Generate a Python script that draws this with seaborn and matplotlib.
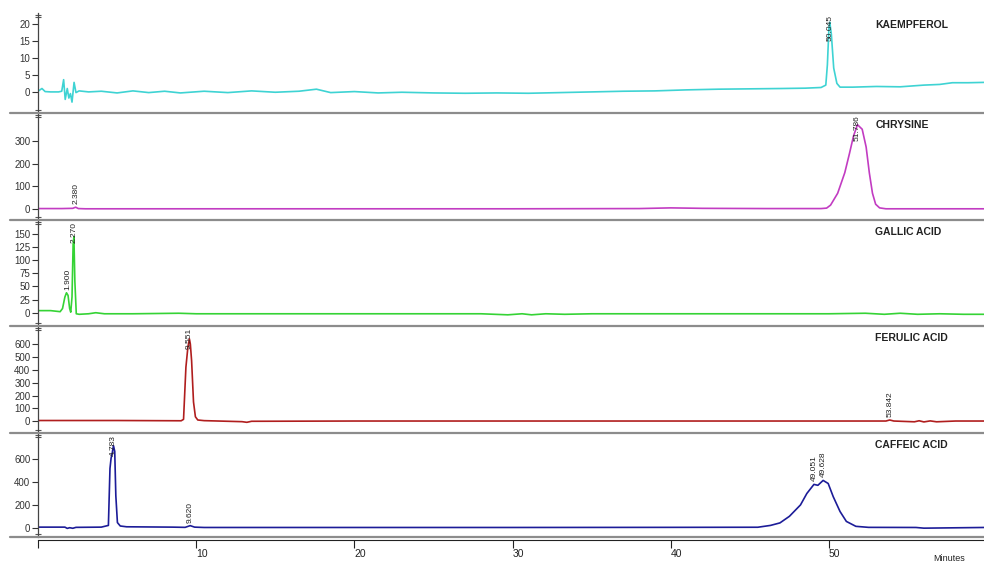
import numpy as np
import pandas as pd
import matplotlib
matplotlib.use('Agg')
import matplotlib.pyplot as plt
from matplotlib.lines import Line2D
import seaborn as sns

# Chromatogram traces (time in minutes, response)
kaempferol_t = [0, 0.25, 0.45, 0.8, 1.3, 1.5, 1.62, 1.72, 1.85, 1.95, 2.05, 2.15, 2.28, 2.4, 2.6,
                3.2, 4.0, 5.0, 6.0, 7.0, 8.0, 9.0, 10.5, 12.0, 13.5, 15.0, 16.5, 17.6, 18.5, 20.0,
                21.5, 23.0, 25.0, 27.0, 29.0, 31.0, 33.0, 35.0, 37.0, 39.0, 41.0, 43.0, 45.0, 47.0,
                48.5, 49.5, 49.8, 49.9, 50.0, 50.05, 50.15, 50.3, 50.5, 50.7, 51.5, 53.0, 54.5,
                56.0, 57.0, 57.8, 58.8, 59.8]
kaempferol_v = [0.2, 1.0, 0.1, 0, 0, 0.2, 3.6, -2.2, 1.0, -1.8, -0.5, -3.0, 2.8, -0.2, 0.3,
                0, 0.2, -0.3, 0.3, -0.2, 0.2, -0.3, 0.2, -0.2, 0.3, -0.1, 0.2, 0.8, -0.2, 0.1,
                -0.3, -0.1, -0.3, -0.4, -0.3, -0.4, -0.2, 0, 0.2, 0.3, 0.6, 0.8, 0.9, 1.0,
                1.1, 1.3, 2.0, 8.0, 19.0, 20.5, 17.0, 7.0, 2.5, 1.4, 1.4, 1.6, 1.5,
                2.0, 2.2, 2.7, 2.7, 2.8]

chrysine_t = [0, 1.5, 2.2, 2.38, 2.55, 3, 10, 20, 30, 38, 40, 42, 46, 49.5, 49.85, 50.1, 50.55,
              51.0, 51.3, 51.55, 51.8, 52.1, 52.35, 52.55, 52.75, 52.95, 53.2, 53.6, 56, 59.8]
chrysine_v = [3, 3, 4, 9, 3, 2, 2, 2, 2, 3, 6, 4, 3, 3, 5, 18, 70,
              160, 245, 320, 370, 350, 272, 160, 70, 22, 6, 2, 2, 2]

gallic_t = [0, 0.8, 1.4, 1.55, 1.7, 1.8, 1.9, 2.0, 2.07, 2.15, 2.22, 2.27, 2.33, 2.42, 2.6, 3.2,
            3.65, 4.2, 6, 8.9, 10, 15, 20, 25, 28, 29.7, 30.6, 31.2, 32.1, 33.3, 35, 40, 45, 50,
            52.3, 53.5, 54.5, 55.6, 57, 58.5, 59.8]
gallic_v = [4, 4, 2, 8, 30, 38, 33, 8, 1, 30, 130, 145, 60, -2, -3, -2,
            0, -2, -2, -1, -2, -2, -2, -2, -2, -4, -2, -4, -2, -3, -2, -2, -2, -2,
            -1, -3, -1, -3, -2, -3, -3]

ferulic_t = [0, 5, 9.05, 9.2, 9.35, 9.47, 9.57, 9.63, 9.71, 9.83, 9.95, 10.1, 10.5, 12.9, 13.2,
             13.5, 20, 30, 40, 50, 53.6, 53.84, 54.1, 55.4, 55.7, 56.0, 56.4, 56.8, 58, 59.8]
ferulic_v = [6, 6, 4, 15, 420, 570, 640, 600, 470, 150, 35, 10, 5, -3, -8,
             0, 2, 2, 2, 2, 2, 10, 2, -4, 4, -5, 3, -4, 2, 2]

caffeic_t = [0, 1.7, 1.85, 2.0, 2.2, 2.4, 4.0, 4.45, 4.55, 4.62, 4.7, 4.77, 4.85, 4.92, 5.02,
             5.2, 5.6, 8.5, 9.3, 9.62, 9.9, 10.5, 20, 30, 40, 45.5, 46.3, 46.9, 47.5, 48.2,
             48.6, 49.05, 49.3, 49.63, 49.95, 50.27, 50.7, 51.1, 51.7, 52.5, 55.5, 56, 59.8]
caffeic_v = [5, 5, -6, 0, -5, 3, 5, 20, 520, 610, 660, 720, 670, 280, 45,
             15, 8, 5, 3, 18, 5, 2, 2, 2, 3, 4, 20, 42, 100, 200,
             300, 380, 372, 415, 388, 272, 142, 55, 12, 3, 2, -4, 2]

compounds = ['KAEMPFEROL', 'CHRYSINE', 'GALLIC ACID', 'FERULIC ACID', 'CAFFEIC ACID']
colors = ['#3ed3d3', '#c23cc2', '#35d335', '#b01e1e', '#1c1c98']
traces = [(kaempferol_t, kaempferol_v), (chrysine_t, chrysine_v), (gallic_t, gallic_v),
          (ferulic_t, ferulic_v), (caffeic_t, caffeic_v)]

# peak labels: (panel index, retention time, peak height, label)
peak_labels = [
    (0, 50.045, 20.5, '50.045'),
    (1, 2.380, 9, '2.380'),
    (1, 51.786, 370, '51.786'),
    (2, 1.900, 38, '1.900'),
    (2, 2.270, 145, '2.270'),
    (3, 9.551, 640, '9.551'),
    (3, 53.842, 10, '53.842'),
    (4, 4.783, 720, '4.783'),
    (4, 9.620, 18, '9.620'),
    (4, 49.051, 380, '49.051'),
    (4, 49.628, 415, '49.628'),
]

y_limits = [(-6.2, 23.2), (-47, 421), (-25.3, 176.7), (-91, 740), (-81.6, 831)]
y_ticks = [[0, 5, 10, 15, 20], [0, 100, 200, 300], [0, 25, 50, 75, 100, 125, 150],
           [0, 100, 200, 300, 400, 500, 600], [0, 200, 400, 600]]
x_ticks = [0, 10, 20, 30, 40, 50]

# panel extents in pixels (top, bottom) of a 984x563 figure
W, H = 984, 563
panels_px = [(13, 113), (113, 220), (220, 326), (326, 433), (433, 537)]
left_px = 38

sns.set_style('ticks')
plt.rcParams['font.family'] = ['Liberation Sans', 'DejaVu Sans']

fig = plt.figure(figsize=(W / 100, H / 100), dpi=100)
axes = []
for i, (top, bot) in enumerate(panels_px):
    ax = fig.add_axes([left_px / W, 1 - bot / H, 1 - left_px / W, (bot - top) / H])
    t, v = traces[i]
    df = pd.DataFrame({'t': t, 'v': v})
    sns.lineplot(data=df, x='t', y='v', color=colors[i], lw=1.2, estimator=None,
                 sort=False, ax=ax)
    ax.set_xlim(0, 59.8)
    ax.set_ylim(*y_limits[i])
    ax.set_yticks(y_ticks[i])
    lo, hi = y_limits[i]
    rng = hi - lo
    ax.set_yticks([lo + 0.03 * rng, hi - 0.015 * rng, hi - 0.04 * rng], minor=True)
    ax.tick_params(axis='y', which='major', left=True, direction='out', length=4.5,
                   width=0.8, labelsize=7, pad=1, colors='#333333')
    ax.tick_params(axis='y', which='minor', left=True, direction='inout', length=5,
                   width=0.8, colors='#555555')
    ax.set_xlabel('')
    ax.set_ylabel('')
    for side in ['top', 'right', 'bottom']:
        ax.spines[side].set_visible(False)
    ax.spines['left'].set_color('#444444')
    ax.spines['left'].set_linewidth(0.9)
    ax.text(0.885, 1 - 12 / (bot - top), compounds[i], transform=ax.transAxes,
            ha='left', va='center', fontsize=7.5, fontweight='bold', color='#222222')
    if i < 4:
        ax.set_xticks([])
    axes.append(ax)

# retention time labels above peaks, kept inside their panel
for i, rt, h, txt in peak_labels:
    ax = axes[i]
    lo, hi = y_limits[i]
    top, bot = panels_px[i]
    ppu = (bot - top) / (hi - lo)
    text_len_px = 4.6 * len(txt)
    y_text = h + 3 / ppu
    if y_text + text_len_px / ppu > hi:
        y_text = hi - text_len_px / ppu
    ax.text(rt, y_text, txt, rotation=90, ha='center', va='bottom', fontsize=6,
            color='#222222', clip_on=True)

# bottom time axis
axb = axes[-1]
axb.spines['bottom'].set_visible(True)
axb.spines['bottom'].set_position(('outward', 2.5))
axb.spines['bottom'].set_color('#222222')
axb.spines['bottom'].set_linewidth(0.8)
axb.set_xticks(x_ticks)
axb.set_xticklabels([''] + [str(x) for x in x_ticks[1:]])
axb.tick_params(axis='x', bottom=True, direction='out', length=6, width=0.8,
                labelsize=7.5, pad=0, colors='#222222')
plt.setp(axb.get_xticklabels(), ha='left')

# gray panel separators
for top, bot in panels_px:
    y = 1 - bot / H
    fig.add_artist(Line2D([10 / W, 1], [y, y], transform=fig.transFigure,
                          color='#8c8c8c', lw=1.6))

fig.text(0.965, 0.0, 'Minutes', ha='center', va='bottom', fontsize=6.5, color='#222222')

fig.savefig('out.png', dpi=100)
